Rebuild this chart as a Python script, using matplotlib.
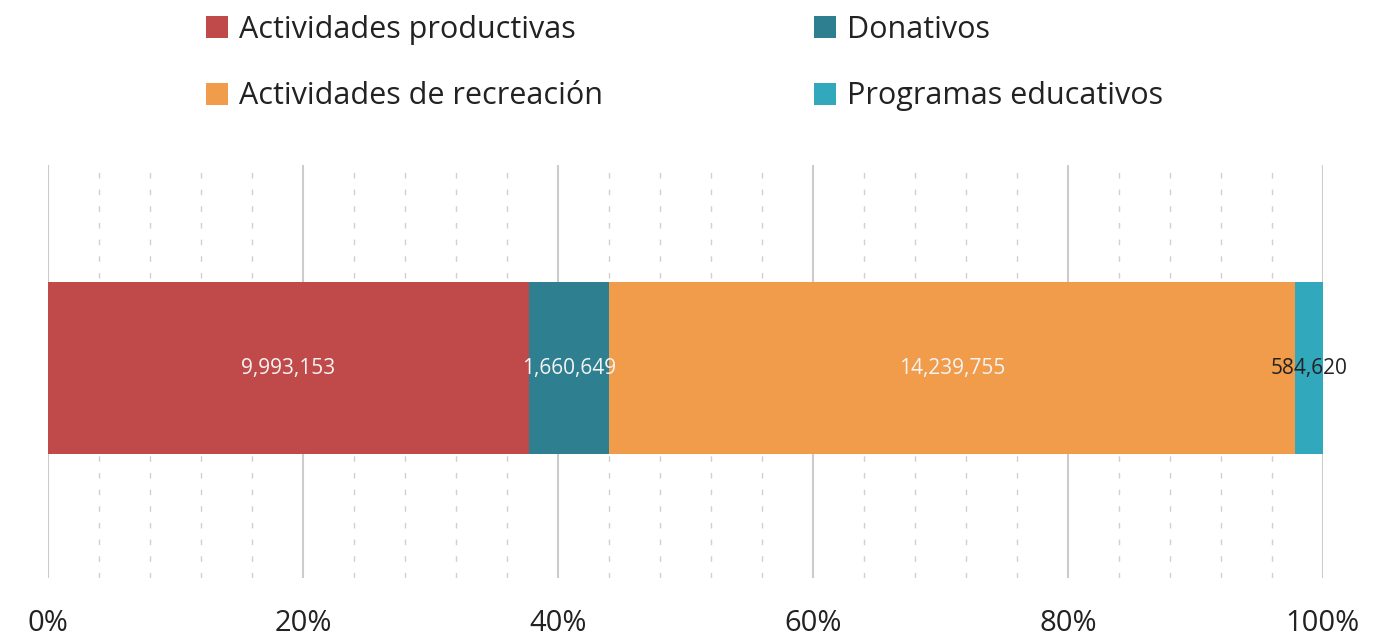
import numpy as np
import matplotlib
matplotlib.use('Agg')
from matplotlib import pyplot as plt
from matplotlib.patches import Patch
from matplotlib.ticker import MultipleLocator, FuncFormatter

plt.rcParams['font.family'] = ['Open Sans', 'DejaVu Sans']

categories = ['Actividades productivas', 'Donativos', 'Actividades de recreación', 'Programas educativos']
values = [9993153, 1660649, 14239755, 584620]
colors = ['#C0494A', '#2E7F8F', '#F09C4A', '#31A8BB']
label_colors = ['#F4F4F4', '#F4F4F4', '#F4F4F4', '#222222']

total = sum(values)
shares = [v / total * 100 for v in values]

fig = plt.figure(figsize=(13.94, 6.37), dpi=100)
ax = fig.add_axes([0.0344, 0.0926, 0.9146, 0.6484])

left = 0
for cat, v, s, c, lc in zip(categories, values, shares, colors, label_colors):
    ax.barh(0.01, s, left=left, height=0.5, color=c, zorder=3)
    ax.text(left + s / 2, 0.01, f'{v:,}', ha='center', va='center',
            fontsize=15, color=lc, zorder=4)
    left += s

ax.set_xlim(0, 100)
ax.set_ylim(-0.6, 0.6)
ax.set_yticks([])
ax.xaxis.set_major_locator(MultipleLocator(20))
ax.xaxis.set_minor_locator(MultipleLocator(4))
ax.xaxis.set_major_formatter(FuncFormatter(lambda x, p: f'{x:.0f}%'))
ax.tick_params(axis='x', which='both', length=0, labelsize=21, labelcolor='#222222', pad=22)
ax.grid(axis='x', which='major', color='#CCCCCC', lw=1.5, zorder=0)
ax.grid(axis='x', which='minor', color='#D0D0D0', lw=1, dashes=(4, 8), zorder=0)
for sp in ax.spines.values():
    sp.set_visible(False)

# legend in column order so rows read as in the original
order = [0, 2, 1, 3]
handles = [Patch(facecolor=colors[i]) for i in order]
labels = [categories[i] for i in order]
fig.legend(handles, labels, ncol=2, loc='upper left', bbox_to_anchor=(0.128, 1.020),
           frameon=False, fontsize=22, handlelength=0.73, handleheight=0.73,
           handletextpad=0.35, columnspacing=6.9, labelspacing=1.2,
           labelcolor='#222222')

fig.savefig('out.png', dpi=100)
